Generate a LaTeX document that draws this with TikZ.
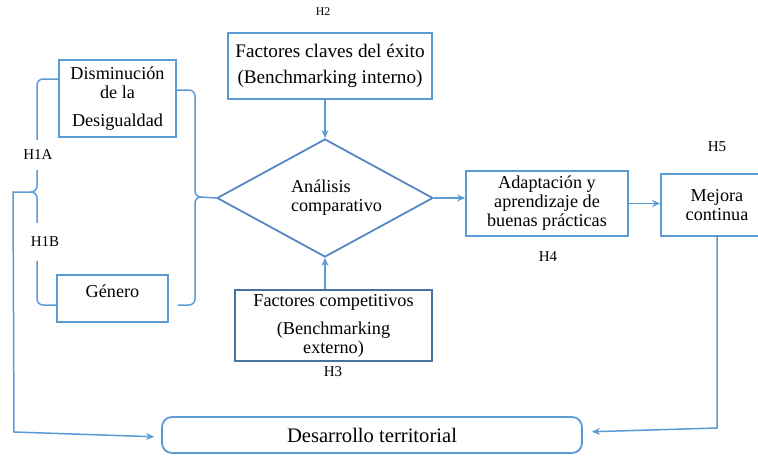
\documentclass[tikz,border=0pt]{standalone}
\usepackage{fontspec}
\setmainfont{Liberation Serif}
\usetikzlibrary{shapes.geometric,arrows.meta}
\definecolor{linea}{RGB}{91,155,213}
\definecolor{rombo}{RGB}{84,135,195}
\definecolor{oscuro}{RGB}{70,115,160}
\tikzset{
    caja/.style={draw=linea, line width=0.9pt, rectangle, inner sep=0pt, align=center, font=\fontsize{9.1}{9.5}\selectfont},
    enlace/.style={draw=linea, line width=0.75pt},
    etiqueta/.style={inner sep=0pt, font=\fontsize{7.5}{8}\selectfont},
}
\begin{document}
\begin{tikzpicture}[x=0.5pt, y=-0.5pt, >={Stealth[length=4pt,width=3.5pt]}]
        \useasboundingbox (0,0) rectangle (758,455);

        % Cajas de entrada
        \node[caja, minimum width=58.5pt, minimum height=38.5pt] (dism) at (117.5,98.5) {Disminución\\de la\\[4.5pt]Desigualdad};
        \node[caja, minimum width=55.5pt, minimum height=23.5pt, text depth=7.5pt] (genero) at (112.5,298.5) {Género};

        % Factores de benchmarking
        \node[caja, minimum width=102pt, minimum height=33pt, font=\fontsize{9.6}{13}\selectfont] (claves) at (330,66) {Factores claves del éxito\\(Benchmarking interno)};
        \node[caja, draw=oscuro, minimum width=98.5pt, minimum height=35.5pt] (compet) at (333.5,325.5) {Factores competitivos\\[4.5pt](Benchmarking\\externo)};

        % Analisis comparativo (rombo)
        \node[draw=rombo, line width=0.9pt, diamond, aspect=1.8, minimum width=108pt, minimum height=59pt, inner sep=0pt, align=left, font=\fontsize{9.1}{9.5}\selectfont] (analisis) at (325,198) {\hspace*{11.5pt}Análisis\\\hspace*{11.5pt}comparativo};

        % Cajas de salida
        \node[caja, minimum width=81pt, minimum height=32.5pt] (adapt) at (547,203.5) {Adaptación y\\aprendizaje de\\buenas prácticas};
        \node[caja, minimum width=56pt, minimum height=31pt] (mejora) at (717,205) {Mejora\\continua};
        \node[caja, rounded corners=5pt, minimum width=210pt, minimum height=18pt, font=\fontsize{10.3}{12}\selectfont] (desarrollo) at (372,435) {Desarrollo territorial};

        % Llaves
        \coordinate (llaveI) at (31,192);
        \coordinate (llaveD) at (200,197);
        \draw[enlace, rounded corners=3pt] (dism.west |- 0,79) -- (37,79) -- (37,192) -- (llaveI);
        \draw[enlace, rounded corners=3pt] (genero.west |- 0,305) -- (37,305) -- (37,192) -- (llaveI);
        \draw[enlace, rounded corners=3pt] (dism.east |- 0,90) -- (195,90) -- (195,197) -- (llaveD);
        \draw[enlace, rounded corners=3pt] ([xshift=4.5pt]genero.east |- 0,305) -- (195,305) -- (195,197) -- (llaveD);
        \draw[enlace] (llaveD) -- (analisis.west);

        % Flechas
        \draw[enlace, ->] (analisis.north |- claves.south) -- (analisis.north);
        \draw[enlace, ->] (analisis.south |- compet.north) -- (analisis.south);
        \draw[enlace, ->] (analisis.east) -- (analisis.east -| adapt.west);
        \draw[enlace, ->] (adapt.east) -- (adapt.east -| mejora.west);

        % Retorno hacia el desarrollo territorial
        \coordinate (esqI) at (14,432);
        \coordinate (esqD) at (717,428);
        \draw[enlace, ->, shorten >=3.5pt] (llaveI) -- (13,192) -- (esqI) -- ([yshift=-1pt]desarrollo.west);
        \draw[enlace, ->, shorten >=4.5pt] (mejora.south) -- (esqD) -- ([yshift=1.5pt]desarrollo.east);

        % Hipotesis
        \node[etiqueta, font=\fontsize{5.9}{7}\selectfont] (h2) at (323,12) {H2};
        \node[etiqueta, fill=white, inner ysep=5pt] (h1a) at (38,155) {H1A};
        \node[etiqueta, fill=white, inner ysep=7pt] (h1b) at (45,242) {H1B};
        \node[etiqueta] (h3) at (333,372) {H3};
        \node[etiqueta] (h4) at (548,257) {H4};
        \node[etiqueta] (h5) at (717,147) {H5};
    \end{tikzpicture}
\end{document}
